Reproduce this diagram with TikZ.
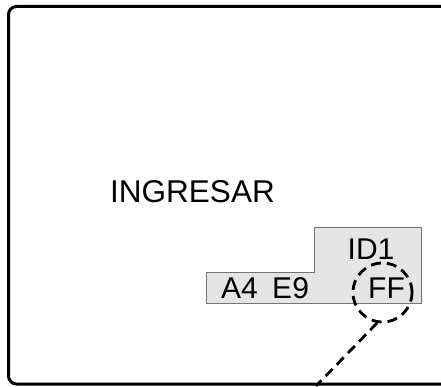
\documentclass[tikz,border=0pt]{standalone}
\usepackage{fontspec}
\setmainfont{Liberation Sans}
\tikzset{
  frame/.style={line width=3pt, rounded corners=8pt},
  panel/.style={fill=black!10, draw=black!55, line width=1pt},
  label/.style={inner sep=0pt, anchor=base, text=black},
  big/.style={font=\fontsize{31.5}{31.5}\selectfont},
  mid/.style={font=\fontsize{30}{30}\selectfont},
  dashline/.style={line width=2.8pt, dash pattern=on 10pt off 6pt},
}
\begin{document}
\begin{tikzpicture}[x=1pt, y=-1pt]
  \useasboundingbox (0,0) rectangle (441,387);
  \clip (0,0) rectangle (441,387);
  % outer screen frame (runs past the right edge)
  \draw[frame] (8.5,6.5) rectangle (480,384);
  % stepped grey display field
  \draw[panel] (206,272) -- (314,272) -- (314,227) -- (421,227)
               -- (421,303) -- (206,303) -- cycle;
  % texts
  \node[label, big] (ing) at (192.5,203) {INGRESAR};
  \node[label, mid] (id) at (371,259.5) {ID1};
  \node[label, mid] (ae) at (265,298.3) {A4\hspace{14.5pt}E9};
  \node[label, mid] (ff) at (386.5,298.3) {FF};
  % dashed highlight circle and leader line
  \node[circle, draw, dashline, minimum size=59pt, inner sep=0pt] (circ) at (382.5,292.5) {};
  \coordinate (lead) at (316,386);
  \draw[dashline] (circ.-100) -- (lead);
\end{tikzpicture}
\end{document}
